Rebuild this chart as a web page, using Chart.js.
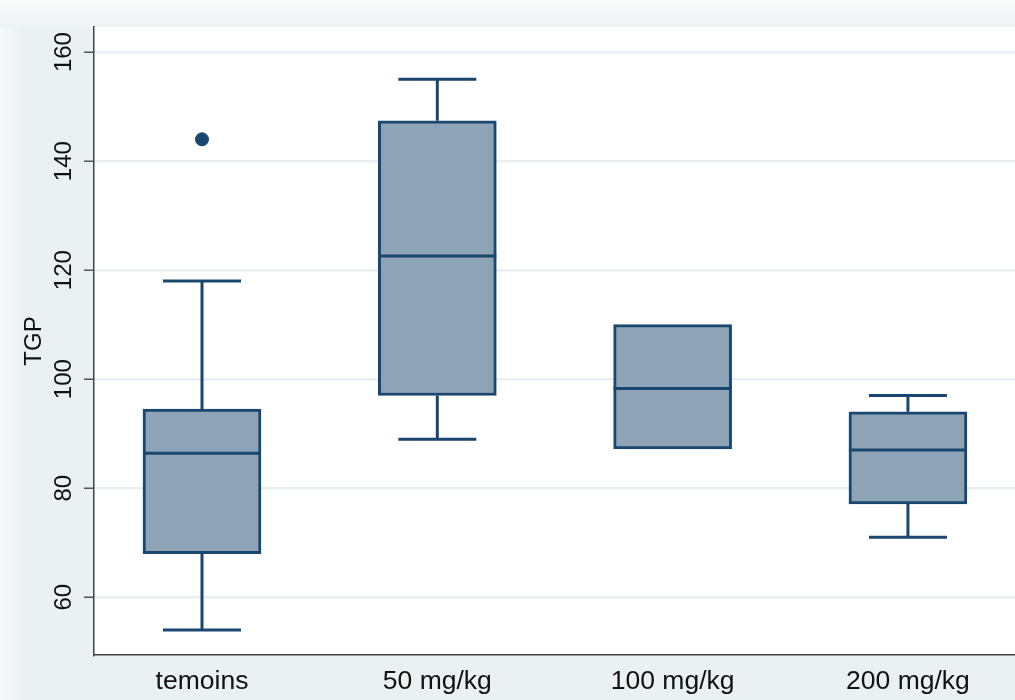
<!DOCTYPE html>
<html>
<head>
<meta charset="utf-8">
<script src="https://cdn.jsdelivr.net/npm/chart.js@4/dist/chart.umd.min.js"></script>
<style>
  html, body { margin: 0; padding: 0; }
  body {
    width: 1015px; height: 700px; overflow: hidden;
    background:
      linear-gradient(to bottom, #fbfcfc 0px, #eef3f4 27px, rgba(234,241,243,0) 30px),
      linear-gradient(to right, #f7fafa 0px, #eaf1f3 22px);
  }
  #wrap { width: 1015px; height: 700px; position: relative; }
</style>
</head>
<body>
<div id="wrap"><canvas id="myChart"></canvas></div>
<script>
const categories = ['temoins', '50 mg/kg', '100 mg/kg', '200 mg/kg'];
const whiskerLow = [54, 89, 87.2, 71];
const q1 = [68, 97, 87.2, 77.1];
const median = [86.4, 122.6, 98.3, 87];
const q3 = [94.5, 147.4, 110, 94];
const whiskerHigh = [118, 155, 110, 97];
const outliers = [[144], [], [], []];
const yTicks = [60, 80, 100, 120, 140, 160];

const navy = '#1a476f';
const boxFill = '#8ea3b6';

const boxData = categories.map((c, i) => ({ x: i, y: [q1[i], q3[i]] }));
const outlierData = [];
outliers.forEach((list, i) => list.forEach(v => outlierData.push({ x: i, y: v })));

const plotBackground = {
  id: 'plotBackground',
  beforeDraw(chart) {
    const { ctx, chartArea: a } = chart;
    ctx.save();
    ctx.fillStyle = '#ffffff';
    ctx.fillRect(a.left, a.top, chart.width - a.left, a.bottom - a.top);
    ctx.restore();
  }
};

// whiskers and caps behind the boxes, median line on top
const boxParts = {
  id: 'boxParts',
  beforeDatasetsDraw(chart) {
    const { ctx, scales: { x, y } } = chart;
    ctx.save();
    ctx.strokeStyle = navy;
    ctx.lineWidth = 3;
    categories.forEach((c, i) => {
      const px = x.getPixelForValue(i);
      const capHalf = 39;
      ctx.beginPath();
      if (whiskerLow[i] < q1[i]) {
        ctx.moveTo(px, y.getPixelForValue(whiskerLow[i]));
        ctx.lineTo(px, y.getPixelForValue(q1[i]));
        ctx.moveTo(px - capHalf, y.getPixelForValue(whiskerLow[i]));
        ctx.lineTo(px + capHalf, y.getPixelForValue(whiskerLow[i]));
      }
      if (whiskerHigh[i] > q3[i]) {
        ctx.moveTo(px, y.getPixelForValue(q3[i]));
        ctx.lineTo(px, y.getPixelForValue(whiskerHigh[i]));
        ctx.moveTo(px - capHalf, y.getPixelForValue(whiskerHigh[i]));
        ctx.lineTo(px + capHalf, y.getPixelForValue(whiskerHigh[i]));
      }
      ctx.stroke();
    });
    ctx.restore();
  },
  afterDatasetsDraw(chart) {
    const { ctx, scales: { y } } = chart;
    const meta = chart.getDatasetMeta(0);
    ctx.save();
    ctx.strokeStyle = navy;
    ctx.lineWidth = 3;
    categories.forEach((c, i) => {
      const bar = meta.data[i];
      const half = bar.width / 2;
      const py = y.getPixelForValue(median[i]);
      ctx.beginPath();
      ctx.moveTo(bar.x - half, py);
      ctx.lineTo(bar.x + half, py);
      ctx.stroke();
    });
    ctx.restore();
  }
};

new Chart(document.getElementById('myChart'), {
  type: 'bar',
  data: {
    datasets: [{
      type: 'bar',
      data: boxData,
      backgroundColor: boxFill,
      borderColor: navy,
      borderWidth: 3,
      borderSkipped: false,
      barThickness: 118
    }, {
      type: 'scatter',
      data: outlierData,
      backgroundColor: navy,
      borderColor: navy,
      pointRadius: 6.5,
      pointStyle: 'circle'
    }]
  },
  options: {
    responsive: true,
    maintainAspectRatio: false,
    animation: false,
    layout: { padding: { top: 27, right: 0, bottom: 0, left: 0 }, autoPadding: false },
    plugins: {
      legend: { display: false },
      tooltip: { enabled: false }
    },
    scales: {
      x: {
        type: 'linear',
        offset: false,
        min: -0.459,
        max: 3.455,
        afterBuildTicks: (scale) => { scale.ticks = categories.map((c, i) => ({ value: i })); },
        afterFit: (scale) => { scale.height = 45; },
        ticks: {
          callback: (v) => categories[v],
          color: '#111',
          font: { family: 'Liberation Sans, Arial, sans-serif', size: 26.5 },
          padding: 11,
          maxRotation: 0,
          minRotation: 0
        },
        grid: { display: true, offset: false, color: 'rgba(0,0,0,0)', drawTicks: false },
        border: { display: true, color: '#444', width: 1.5 }
      },
      y: {
        min: 49.4,
        max: 164.6,
        afterBuildTicks: (scale) => { scale.ticks = yTicks.map(v => ({ value: v })); },
        afterFit: (scale) => { scale.width = 94; },
        ticks: {
          color: '#111',
          font: { family: 'Liberation Sans, Arial, sans-serif', size: 24 },
          minRotation: 90,
          maxRotation: 90,
          crossAlign: 'center',
          padding: 0
        },
        title: {
          display: true,
          text: 'TGP',
          color: '#111',
          font: { family: 'Liberation Sans, Arial, sans-serif', size: 24 },
          padding: { top: 20, bottom: 0 }
        },
        grid: {
          color: '#e8eff2',
          lineWidth: 2.5,
          tickColor: '#555',
          tickLength: 10,
          tickWidth: 1.5
        },
        border: { display: true, color: '#444', width: 1.5 }
      }
    }
  },
  plugins: [plotBackground, boxParts]
});
</script>
</body>
</html>
